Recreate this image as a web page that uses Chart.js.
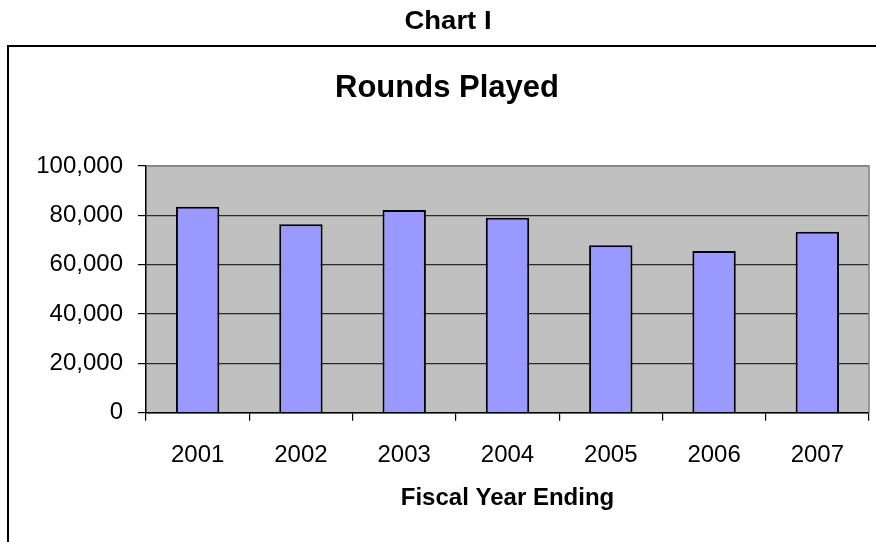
<!DOCTYPE html>
<html>
<head>
<meta charset="utf-8">
<script src="https://cdn.jsdelivr.net/npm/chart.js@4"></script>
<style>
  html, body { margin: 0; padding: 0; background: #fff; }
  #wrap { width: 876px; height: 542px; position: relative; }
  canvas { display: block; }
</style>
</head>
<body>
<div id="wrap"><canvas id="c" width="876" height="542"></canvas></div>
<script>
const categories = ['2001', '2002', '2003', '2004', '2005', '2006', '2007'];
const roundsPlayed = [83500, 76400, 82200, 79000, 67900, 65500, 73300];
const yTicks = [0, 20000, 40000, 60000, 80000, 100000];
const pageTitle = 'Chart I';
const chartTitle = 'Rounds Played';
const xAxisTitle = 'Fiscal Year Ending';

const FONT = "'Liberation Sans', Arial, sans-serif";

const decor = {
  id: 'decor',
  beforeDraw(chart) {
    const ctx = chart.ctx;
    const a = chart.chartArea;
    ctx.save();
    ctx.fillStyle = '#ffffff';
    ctx.fillRect(0, 0, chart.width, chart.height);
    ctx.fillStyle = '#c0c0c0';
    ctx.fillRect(a.left, a.top, a.right - a.left, a.bottom - a.top);
    ctx.restore();
  },
  afterDraw(chart) {
    const ctx = chart.ctx;
    const a = chart.chartArea;
    ctx.save();
    ctx.strokeStyle = '#808080';
    ctx.lineWidth = 1.5;
    ctx.beginPath();
    ctx.moveTo(a.left, a.top);
    ctx.lineTo(a.right, a.top);
    ctx.lineTo(a.right, a.bottom);
    ctx.stroke();
    ctx.strokeStyle = '#000';
    ctx.lineWidth = 2;
    ctx.beginPath();
    ctx.moveTo(8, chart.height + 2);
    ctx.lineTo(8, 46);
    ctx.lineTo(chart.width + 2, 46);
    ctx.stroke();
    ctx.fillStyle = '#000';
    ctx.textAlign = 'center';
    ctx.textBaseline = 'alphabetic';
    ctx.save();
    ctx.translate(448, 29);
    ctx.scale(1.1, 1);
    ctx.font = "bold 25px " + FONT;
    ctx.fillText(pageTitle, 0, 0);
    ctx.restore();
    ctx.font = "bold 31px " + FONT;
    ctx.fillText(chartTitle, 447, 97);
    ctx.restore();
  }
};

new Chart(document.getElementById('c'), {
  type: 'bar',
  data: {
    labels: categories,
    datasets: [{
      data: roundsPlayed,
      backgroundColor: '#9999ff',
      borderColor: '#000000',
      borderWidth: 2,
      barPercentage: 0.42,
      categoryPercentage: 1.0
    }]
  },
  options: {
    responsive: false,
    animation: false,
    devicePixelRatio: 1,
    layout: { padding: { top: 166, right: 7, left: 0, bottom: 0 } },
    plugins: { legend: { display: false }, tooltip: { enabled: false }, title: { display: false } },
    scales: {
      x: {
        offset: true,
        afterFit(scale) { scale.height = 129.3; },
        grid: { display: true, drawOnChartArea: false, drawTicks: true, tickLength: 8, color: '#000', lineWidth: 1.2, offset: true },
        border: { display: true, color: '#000', width: 1.5 },
        ticks: { color: '#000', font: { family: FONT, size: 24 }, padding: 20, maxRotation: 0 },
        title: { display: true, text: xAxisTitle, color: '#000', font: { family: FONT, size: 24, weight: 'bold' }, padding: { top: 0, bottom: 29 } }
      },
      y: {
        min: 0,
        max: 100000,
        afterFit(scale) { scale.width = 146; },
        afterBuildTicks(scale) { scale.ticks = yTicks.map(v => ({ value: v })); },
        grid: {
          color: (c) => (c.tick && c.tick.value === 100000) ? '#808080' : '#2a2a2a',
          tickColor: '#000',
          lineWidth: 1.2,
          tickLength: 8
        },
        border: { display: true, color: '#000', width: 1.5 },
        ticks: {
          color: '#000',
          font: { family: FONT, size: 24 },
          padding: 15,
          callback: (v) => Number(v).toLocaleString('en-US')
        }
      }
    }
  },
  plugins: [decor]
});
</script>
</body>
</html>
